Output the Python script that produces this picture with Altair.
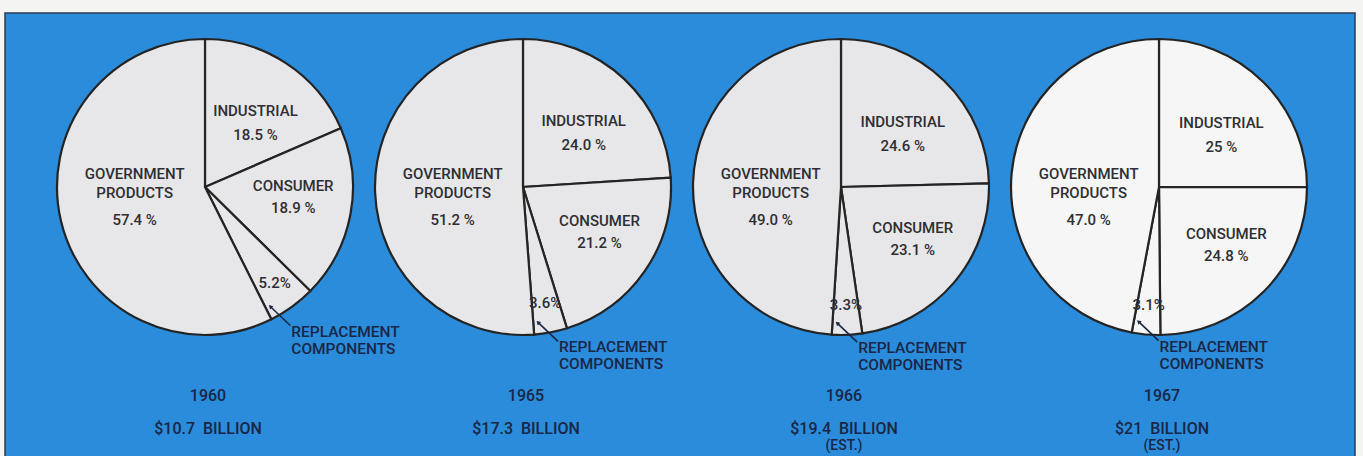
import math

import altair as alt
import pandas as pd

# ---- data -------------------------------------------------------------
years = ["1960", "1965", "1966", "1967"]
totals = ["$10.7\u00a0 BILLION", "$17.3\u00a0 BILLION", "$19.4\u00a0 BILLION", "$21\u00a0 BILLION"]
estimates = ["", "", "(EST.)", "(EST.)"]

# market share in percent, clockwise from 12 o'clock
industrial = ["18.5", "24.0", "24.6", "25"]
consumer = ["18.9", "21.2", "23.1", "24.8"]
replacement = ["5.2", "3.6", "3.3", "3.1"]
government = ["57.4", "51.2", "49.0", "47.0"]

categories = ["INDUSTRIAL", "CONSUMER", "REPLACEMENT COMPONENTS", "GOVERNMENT PRODUCTS"]
series = [industrial, consumer, replacement, government]

# ---- layout -----------------------------------------------------------
W, H = 1363, 456
CX0, DX, CY, R = 205, 318, 187, 148
BLUE = "#2a8cda"
NAVY = "#1a2645"
INK = "#2e2e33"
FONT = "Roboto"

# label placement inside each slice: text lines, radius fraction,
# angular shift from the slice middle (deg), fixed angle (deg, -1 = none),
# vertical offset of each line
label_style = {
    "INDUSTRIAL": (["INDUSTRIAL", "{p} %"], 0.55, 5, -1, [-12, 12]),
    "CONSUMER": (["CONSUMER", "{p} %"], 0.60, -4, -1, [-11, 11]),
    "REPLACEMENT COMPONENTS": (["{p}%"], 0.80, 0, -1, [0]),
    "GOVERNMENT PRODUCTS": (["GOVERNMENT", "PRODUCTS", "{p} %"], 0.48, 0, 262, [-23, -4, 23]),
}

rows = []
for i, year in enumerate(years):
    for order, (cat, vals) in enumerate(zip(categories, series)):
        lines, lr, shift, fixed, offs = label_style[cat]
        lines = [t.format(p=vals[i]) for t in lines] + [""] * (3 - len(lines))
        offs = offs + [0] * (3 - len(offs))
        rows.append({
            "idx": i, "year": year, "cat": cat, "order": order,
            "val": float(vals[i]),
            "t1": lines[0], "t2": lines[1], "t3": lines[2],
            "o1": offs[0], "o2": offs[1], "o3": offs[2],
            "lr": lr, "shift": shift, "fixed": fixed,
            "fs": 15,
        })
slices = pd.DataFrame(rows)

years_df = pd.DataFrame({"idx": list(range(len(years))), "year": years,
                         "total": totals, "est": estimates})

px = lambda f: alt.X(f, type="quantitative", scale=None, axis=None)
py = lambda f: alt.Y(f, type="quantitative", scale=None, axis=None)

base = (
    alt.Chart(slices)
    .transform_joinaggregate(tot="sum(val)", groupby=["idx"])
    .transform_window(cum="sum(val)", groupby=["idx"],
                      sort=[alt.SortField("order")], frame=[None, 0])
    .transform_calculate(
        start="(datum.cum - datum.val) / datum.tot",
        end="datum.cum / datum.tot",
        cx=f"{CX0} + datum.idx * {DX}",
        cy=f"{CY}",
    )
    .transform_calculate(
        ang="datum.fixed >= 0 ? datum.fixed * PI / 180 : "
            "2 * PI * (datum.start + datum.end) / 2 + datum.shift * PI / 180",
    )
    .transform_calculate(
        ax=f"datum.cx + {R} * datum.lr * sin(datum.ang)",
        ay=f"datum.cy - {R} * datum.lr * cos(datum.ang)",
    )
)

# blue panel behind the pies
panel = alt.Chart(pd.DataFrame({"k": [0]})).mark_rect(
    fill=BLUE, stroke="#2a3a52", strokeWidth=1.5
).encode(x=alt.value(5), x2=alt.value(1355), y=alt.value(13), y2=alt.value(480))

pies = base.mark_arc(outerRadius=R, stroke="#242424", strokeWidth=2.2).encode(
    x=px("cx"), y=py("cy"),
    theta=alt.Theta("start:Q", scale=alt.Scale(domain=[0, 1], range=[0, 2 * math.pi]),
                    stack=None),
    theta2=alt.Theta2("end:Q"),
    fill=alt.Color("year:N", scale=alt.Scale(domain=years,
                   range=["#e7e7e9", "#e7e7e9", "#e7e7e9", "#f6f6f6"]), legend=None),
)

text_layers = []
for k in (1, 2, 3):
    text_layers.append(
        base.transform_filter(f"datum.t{k} != ''")
        .transform_calculate(ty=f"datum.ay + datum.o{k}")
        .mark_text(font=FONT, fontWeight=500, color=INK, align="center", baseline="middle")
        .encode(x=px("ax"), y=py("ty"), text=f"t{k}:N",
                size=alt.Size("fs:Q", scale=None))
    )

# leader line from the replacement slice to its caption
callout = (
    base.transform_filter("indexof(datum.cat, 'REPLACEMENT') == 0")
    .transform_calculate(ta="2 * PI * datum.end - 2 * PI / 180")
    .transform_calculate(
        tx=f"datum.cx + {R} * 0.92 * sin(datum.ta)",
        ty=f"datum.cy - {R} * 0.92 * cos(datum.ta)",
    )
    .transform_calculate(
        lx="datum.tx + 20", ly="datum.ty + 19",
        capx="datum.tx + 21", cap1="datum.ty + 25", cap2="datum.ty + 42",
        w1="'REPLACEMENT'", w2="'COMPONENTS'",
    )
)
leader = callout.mark_rule(color=NAVY, strokeWidth=1.6).encode(
    x=px("tx"), y=py("ty"), x2="lx:Q", y2="ly:Q"
)
arrow = callout.mark_point(shape="triangle-up", angle=314, size=22, filled=True,
                           color=NAVY, opacity=1).encode(x=px("tx"), y=py("ty"))
cap_a = callout.mark_text(font=FONT, fontWeight=500, fontSize=15.5, color=NAVY, align="left",
                          baseline="middle").encode(x=px("capx"), y=py("cap1"), text="w1:N")
cap_b = callout.mark_text(font=FONT, fontWeight=500, fontSize=15.5, color=NAVY, align="left",
                          baseline="middle").encode(x=px("capx"), y=py("cap2"), text="w2:N")

ybase = alt.Chart(years_df).transform_calculate(bx=f"{CX0} + datum.idx * {DX} + 3")
year_txt = ybase.transform_calculate(by="396").mark_text(
    font=FONT, fontWeight=500, fontSize=16, color=NAVY, baseline="middle").encode(
    x=px("bx"), y=py("by"), text="year:N")
total_txt = ybase.transform_calculate(by="429").mark_text(
    font=FONT, fontWeight=500, fontSize=16, color=NAVY, baseline="middle").encode(
    x=px("bx"), y=py("by"), text="total:N")
est_txt = ybase.transform_filter("datum.est != ''").transform_calculate(by="446").mark_text(
    font=FONT, fontWeight=500, fontSize=14, color=NAVY, baseline="middle").encode(
    x=px("bx"), y=py("by"), text="est:N")

chart = (
    alt.layer(panel, pies, *text_layers, leader, arrow, cap_a, cap_b,
              year_txt, total_txt, est_txt)
    .properties(width=W, height=H, padding=0,
                autosize=alt.AutoSizeParams(type="none"))
    .configure(background="#f4f4f2")
    .configure_view(strokeWidth=0)
)

chart.save("out.html", embed_options={"renderer": "svg", "actions": False})
